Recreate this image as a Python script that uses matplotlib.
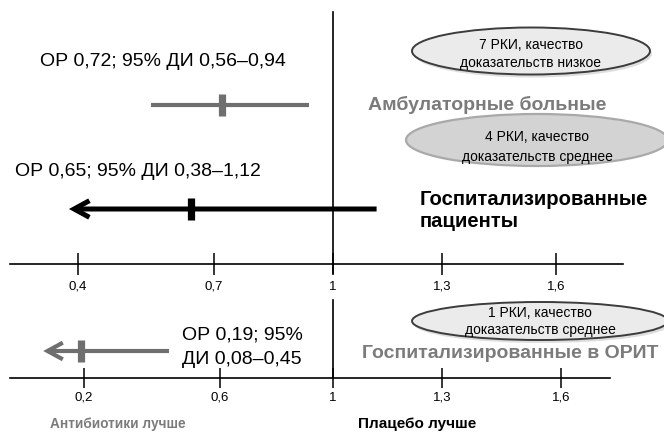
"""Forest plot: antibiotics vs placebo, relative risk by patient group."""

import matplotlib

matplotlib.use("Agg")

import matplotlib.pyplot as plt
import numpy as np
from matplotlib.patches import Ellipse, FancyArrowPatch

plt.rcParams["font.family"] = ["Liberation Sans", "DejaVu Sans"]

W, H = 664, 433

# -------------------------
# Data
# -------------------------
TOP_GROUPS = ["Амбулаторные больные", "Госпитализированные\nпациенты"]
TOP_RR = [0.72, 0.65]
TOP_CI_LOW = [0.56, 0.38]
TOP_CI_HIGH = [0.94, 1.12]
TOP_EVIDENCE = [
    "7 РКИ, качество\nдоказательств низкое",
    "4 РКИ, качество\nдоказательств среднее",
]

ICU_GROUP = "Госпитализированные в ОРИТ"
ICU_RR = [0.19]
ICU_CI_LOW = [0.08]
ICU_CI_HIGH = [0.45]
ICU_EVIDENCE = "1 РКИ, качество\nдоказательств среднее"

TOP_TICKS = [0.4, 0.7, 1.0, 1.3, 1.6]
TOP_TICK_LABELS = ["0,4", "0,7", "1", "1,3", "1,6"]
ICU_TICKS = [0.2, 0.6, 1.0, 1.3, 1.6]
ICU_TICK_LABELS = ["0,2", "0,6", "1", "1,3", "1,6"]

# tick positions along each axis, in figure pixels (axes are hand-spaced)
TOP_TICK_PX = [78, 214, 333, 442, 556]
ICU_TICK_PX = [84, 220, 333, 442, 561]

GRAY = "#6f6f6f"
LABEL_GRAY = "#7b7b7b"


def fx(x: float) -> float:
    return x / W


def fy(y: float) -> float:
    return 1 - y / H


def fmt(v: float) -> str:
    return f"{v:g}".replace(".", ",")


def piecewise_scale(vals, px):
    vals = np.asarray(vals, dtype=float)
    px = np.asarray(px, dtype=float)

    def _map(x, a, b):
        x = np.asarray(x, dtype=float)
        y = np.interp(x, a, b)
        lo_slope = (b[1] - b[0]) / (a[1] - a[0])
        hi_slope = (b[-1] - b[-2]) / (a[-1] - a[-2])
        y = np.where(x < a[0], b[0] + (x - a[0]) * lo_slope, y)
        y = np.where(x > a[-1], b[-1] + (x - a[-1]) * hi_slope, y)
        return y

    return (lambda x: _map(x, vals, px)), (lambda y: _map(y, px, vals))


def setup_axis(ax, ticks, labels, tick_px, x_left, x_right, tick_len, pad):
    fwd, inv = piecewise_scale(ticks, tick_px)
    ax.set_xscale("function", functions=(fwd, inv))
    ax.set_xlim(float(inv(x_left)), float(inv(x_right)))
    ax.set_xticks(ticks)
    ax.set_xticklabels(labels)
    ax.set_yticks([])
    for side in ("left", "right", "top"):
        ax.spines[side].set_visible(False)
    ax.spines["bottom"].set_linewidth(1.2)
    ax.tick_params(axis="x", direction="inout", length=tick_len, width=1.1,
                   labelsize=9.5, pad=pad)
    ax.patch.set_alpha(0)


def draw_ci(ax, rr, lo, hi, y, color, lw, arrow):
    if arrow:
        ax.add_patch(FancyArrowPatch(
            (hi, y), (lo, y),
            arrowstyle="->,head_length=1.1,head_width=0.6",
            mutation_scale=10, lw=lw, color=color,
            shrinkA=0, shrinkB=0, capstyle="butt", joinstyle="miter",
        ))
    else:
        ax.plot([lo, hi], [y, y], color=color, lw=lw, solid_capstyle="butt")
    ax.plot([rr], [y], marker="|", ms=16, mew=5.2, color=color)


def evidence_ellipse(fig, cx, cy, w, h, text, face, edge, lw, text_lines_y):
    if edge != face:
        fig.add_artist(Ellipse((fx(cx + 2), fy(cy + 3)), w / W, h / H,
                               transform=fig.transFigure, facecolor="#dedede",
                               edgecolor="none", zorder=0.5))
    fig.add_artist(Ellipse((fx(cx), fy(cy)), w / W, h / H,
                           transform=fig.transFigure, facecolor=face,
                           edgecolor=edge, lw=lw, zorder=1))
    for line, ly in zip(text.split("\n"), text_lines_y):
        fig.text(fx(cx), fy(ly), line, ha="center", va="center", fontsize=10)


fig = plt.figure(figsize=(W / 100, H / 100), dpi=100)

# -------------------------
# Upper panel: outpatients and hospitalised
# -------------------------
ax_top = fig.add_axes([fx(10), fy(264), (623 - 10) / W, (264 - 12) / H])
ax_top.set_ylim(0, 252)
setup_axis(ax_top, TOP_TICKS, TOP_TICK_LABELS, TOP_TICK_PX, 10, 623, 16, 4)
ax_top.plot([1, 1], [-9, 252], color="black", lw=1.2, clip_on=False)

top_rows_y = [159, 55]
top_colors = [GRAY, "black"]
top_lw = [3.0, 3.6]
top_arrow = [False, True]
for i in range(len(TOP_RR)):
    draw_ci(ax_top, TOP_RR[i], TOP_CI_LOW[i], TOP_CI_HIGH[i], top_rows_y[i],
            top_colors[i], top_lw[i], top_arrow[i])

fig.text(fx(40), fy(62),
         f"ОР {fmt(TOP_RR[0])}; 95% ДИ {fmt(TOP_CI_LOW[0])}–{fmt(TOP_CI_HIGH[0])}",
         fontsize=14, va="center")
fig.text(fx(15), fy(172),
         f"ОР {fmt(TOP_RR[1])}; 95% ДИ {fmt(TOP_CI_LOW[1])}–{fmt(TOP_CI_HIGH[1])}",
         fontsize=14, va="center")

fig.text(fx(368), fy(105), TOP_GROUPS[0], fontsize=14, fontweight="bold",
         color=LABEL_GRAY, va="center")
fig.text(fx(420), fy(210), TOP_GROUPS[1], fontsize=14.6, fontweight="bold",
         color="black", va="center", linespacing=1.2)

evidence_ellipse(fig, 531, 51, 238, 47, TOP_EVIDENCE[0], "#ebebeb", "#3c3c3c",
                 1.4, [45, 63])
evidence_ellipse(fig, 537, 140, 262, 52, TOP_EVIDENCE[1], "#d3d3d3", "#d3d3d3",
                 0, [137, 157])
fig.add_artist(Ellipse((fx(537), fy(140)), 262 / W, 52 / H,
                       transform=fig.transFigure, facecolor="none",
                       edgecolor="#a9a9a9", lw=1.6, zorder=1.1))

# -------------------------
# Lower panel: ICU
# -------------------------
ax_icu = fig.add_axes([fx(10), fy(378), (610 - 10) / W, (378 - 300) / H])
ax_icu.set_ylim(0, 78)
setup_axis(ax_icu, ICU_TICKS, ICU_TICK_LABELS, ICU_TICK_PX, 10, 610, 15, 2.5)
ax_icu.plot([1, 1], [0, 78], color="black", lw=1.2, clip_on=False)

draw_ci(ax_icu, ICU_RR[0], ICU_CI_LOW[0], ICU_CI_HIGH[0], 27, GRAY, 3.0, True)

fig.text(fx(182), fy(335), f"ОР {fmt(ICU_RR[0])}; 95%", fontsize=14, va="center")
fig.text(fx(182), fy(360), f"ДИ {fmt(ICU_CI_LOW[0])}–{fmt(ICU_CI_HIGH[0])}",
         fontsize=14, va="center")
fig.text(fx(362), fy(353), ICU_GROUP, fontsize=14, fontweight="bold",
         color=LABEL_GRAY, va="center")

evidence_ellipse(fig, 540, 321, 256, 38, ICU_EVIDENCE, "#ebebeb", "#3c3c3c",
                 1.4, [313, 330])

# favours labels
fig.text(fx(50), fy(424), "Антибиотики лучше", fontsize=9.8, fontweight="bold",
         color=LABEL_GRAY, va="center")
fig.text(fx(358), fy(424), "Плацебо лучше", fontsize=11, fontweight="bold",
         color="black", va="center")

fig.savefig("out.png", dpi=100)
plt.close(fig)
